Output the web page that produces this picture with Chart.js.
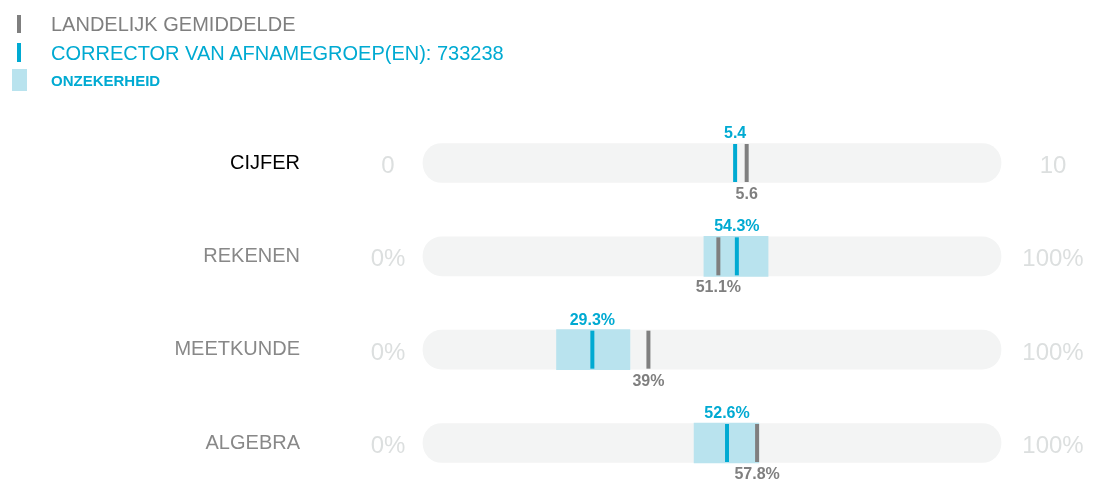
<!DOCTYPE html>
<html>
<head>
<meta charset="utf-8">
<script src="https://cdn.jsdelivr.net/npm/chart.js@4.4.1/dist/chart.umd.min.js"></script>
<style>
  body { margin: 0; background: #fff; font-family: "Liberation Sans", Arial, sans-serif; }
  #wrap { position: relative; width: 1099px; height: 479px; }
  #wrap canvas { position: absolute; left: 0; top: 0; }
  .mark { position: absolute; }
  .lg { position: absolute; left: 51px; white-space: nowrap; }
</style>
</head>
<body>
<div id="wrap">
  <canvas id="scoreChart" width="1099" height="479"></canvas>
  <div class="mark" style="left:17px;top:15px;width:4px;height:18px;background:#7f7f7f"></div>
  <div class="lg" style="top:14px;font-size:20px;line-height:20px;color:#7f7f7f">LANDELIJK GEMIDDELDE</div>
  <div class="mark" style="left:17px;top:43px;width:4px;height:19px;background:#00aad2"></div>
  <div class="lg" style="top:43px;font-size:20px;line-height:20px;color:#00aad2">CORRECTOR VAN AFNAMEGROEP(EN): 733238</div>
  <div class="mark" style="left:12px;top:69px;width:15px;height:22px;background:#b9e3ee"></div>
  <div class="lg" style="top:73px;font-size:15px;line-height:15px;font-weight:bold;color:#00aad2">ONZEKERHEID</div>
</div>
<script>
// waarden
const categories = ['CIJFER', 'REKENEN', 'MEETKUNDE', 'ALGEBRA'];
const corrector = [5.4, 54.3, 29.3, 52.6];
const landelijk = [5.6, 51.1, 39, 57.8];
const onzekerheidLaag = [null, 48.6, 23.1, 46.9];
const onzekerheidHoog = [null, 59.7, 35.8, 58.1];
const schaalMin = ['0', '0%', '0%', '0%'];
const schaalMax = ['10', '100%', '100%', '100%'];
const eenheid = ['', '%', '%', '%'];
const rijAs = ['xc', 'x', 'x', 'x'];   // cijfer loopt van 0 tot 10, de rest in procenten

const blauw = '#00aad2';
const grijs = '#7f7f7f';
const font = '"Liberation Sans", Arial, sans-serif';

function punten(values, as) {
    return values
        .map((v, i) => ({ x: v, y: categories[i], as: rijAs[i] }))
        .filter(p => p.as === as)
        .map(p => ({ x: p.x, y: p.y }));
}

const markerStijl = {
    type: 'scatter',
    pointStyle: 'line',
    rotation: 90,
    radius: 19,
    hoverRadius: 19,
    borderWidth: 4,
    hoverBorderWidth: 4,
    yAxisID: 'y',
    clip: false,
    order: 1
};

const tekstPlugin = {
    id: 'tekstPlugin',
    afterDatasetsDraw(chart) {
        const { ctx, chartArea, scales } = chart;
        ctx.save();
        ctx.textAlign = 'center';
        ctx.textBaseline = 'alphabetic';
        categories.forEach((cat, i) => {
            const as = scales[rijAs[i]];
            const y = scales.y.getPixelForValue(i);
            ctx.font = 'bold 16px ' + font;
            ctx.fillStyle = blauw;
            ctx.fillText(corrector[i] + eenheid[i], as.getPixelForValue(corrector[i]), y - 25);
            ctx.fillStyle = grijs;
            ctx.fillText(landelijk[i] + eenheid[i], as.getPixelForValue(landelijk[i]), y + 36);
            ctx.font = '24px ' + font;
            ctx.fillStyle = '#dcdfdf';
            ctx.fillText(schaalMin[i], chartArea.left - 35, y + 10);
            ctx.fillText(schaalMax[i], chartArea.right + 52, y + 10);
        });
        ctx.restore();
    }
};

const ctx = document.getElementById('scoreChart').getContext('2d');
const scoreChart = new Chart(ctx, {
    type: 'bar',
    data: {
        labels: categories,
        datasets: [
            {
                label: 'achtergrond',
                data: categories.map(() => [0, 100]),
                backgroundColor: '#f3f4f4',
                borderRadius: 19,
                borderSkipped: false,
                barThickness: 39,
                grouped: false,
                clip: false,
                xAxisID: 'x',
                yAxisID: 'y',
                order: 4
            },
            {
                label: 'ONZEKERHEID',
                data: onzekerheidLaag.map((lo, i) => lo === null ? null : [lo, onzekerheidHoog[i]]),
                backgroundColor: '#b9e3ee',
                borderSkipped: false,
                barThickness: 40,
                grouped: false,
                clip: false,
                xAxisID: 'x',
                yAxisID: 'y',
                order: 3
            },
            { ...markerStijl, label: 'LANDELIJK GEMIDDELDE', data: punten(landelijk, 'x'), xAxisID: 'x', borderColor: grijs, backgroundColor: grijs },
            { ...markerStijl, label: 'LANDELIJK GEMIDDELDE', data: punten(landelijk, 'xc'), xAxisID: 'xc', borderColor: grijs, backgroundColor: grijs },
            { ...markerStijl, label: 'CORRECTOR', data: punten(corrector, 'x'), xAxisID: 'x', borderColor: blauw, backgroundColor: blauw },
            { ...markerStijl, label: 'CORRECTOR', data: punten(corrector, 'xc'), xAxisID: 'xc', borderColor: blauw, backgroundColor: blauw }
        ]
    },
    options: {
        indexAxis: 'y',
        responsive: false,
        animation: false,
        events: [],
        layout: {
            padding: { top: 163, bottom: 36, left: 0, right: 98 }
        },
        scales: {
            y: {
                type: 'category',
                labels: categories,
                offset: false,
                position: 'left',
                weight: 1,
                grid: { display: false, offset: false },
                border: { display: false },
                ticks: {
                    padding: 0,
                    autoSkip: false,
                    color: ctx => ctx.index === 0 ? '#000000' : '#888888',
                    font: { size: 20, family: font }
                },
                afterFit: scale => { scale.width = 308; }
            },
            // lege ruimte tussen de rijnamen en de balken (waar 0 / 0% staat)
            ruimte: {
                type: 'category',
                labels: categories,
                offset: false,
                position: 'left',
                weight: 0,
                grid: { display: false },
                border: { display: false },
                ticks: { display: false },
                afterFit: scale => { scale.width = 115; }
            },
            x: {
                type: 'linear',
                min: 0,
                max: 100,
                offset: false,
                display: false,
                grid: { offset: false }
            },
            xc: {
                type: 'linear',
                axis: 'x',
                position: 'bottom',
                min: 0,
                max: 10,
                offset: false,
                display: false,
                grid: { offset: false }
            }
        },
        plugins: {
            legend: { display: false },
            tooltip: { enabled: false }
        }
    },
    plugins: [tekstPlugin]
});
</script>
</body>
</html>
